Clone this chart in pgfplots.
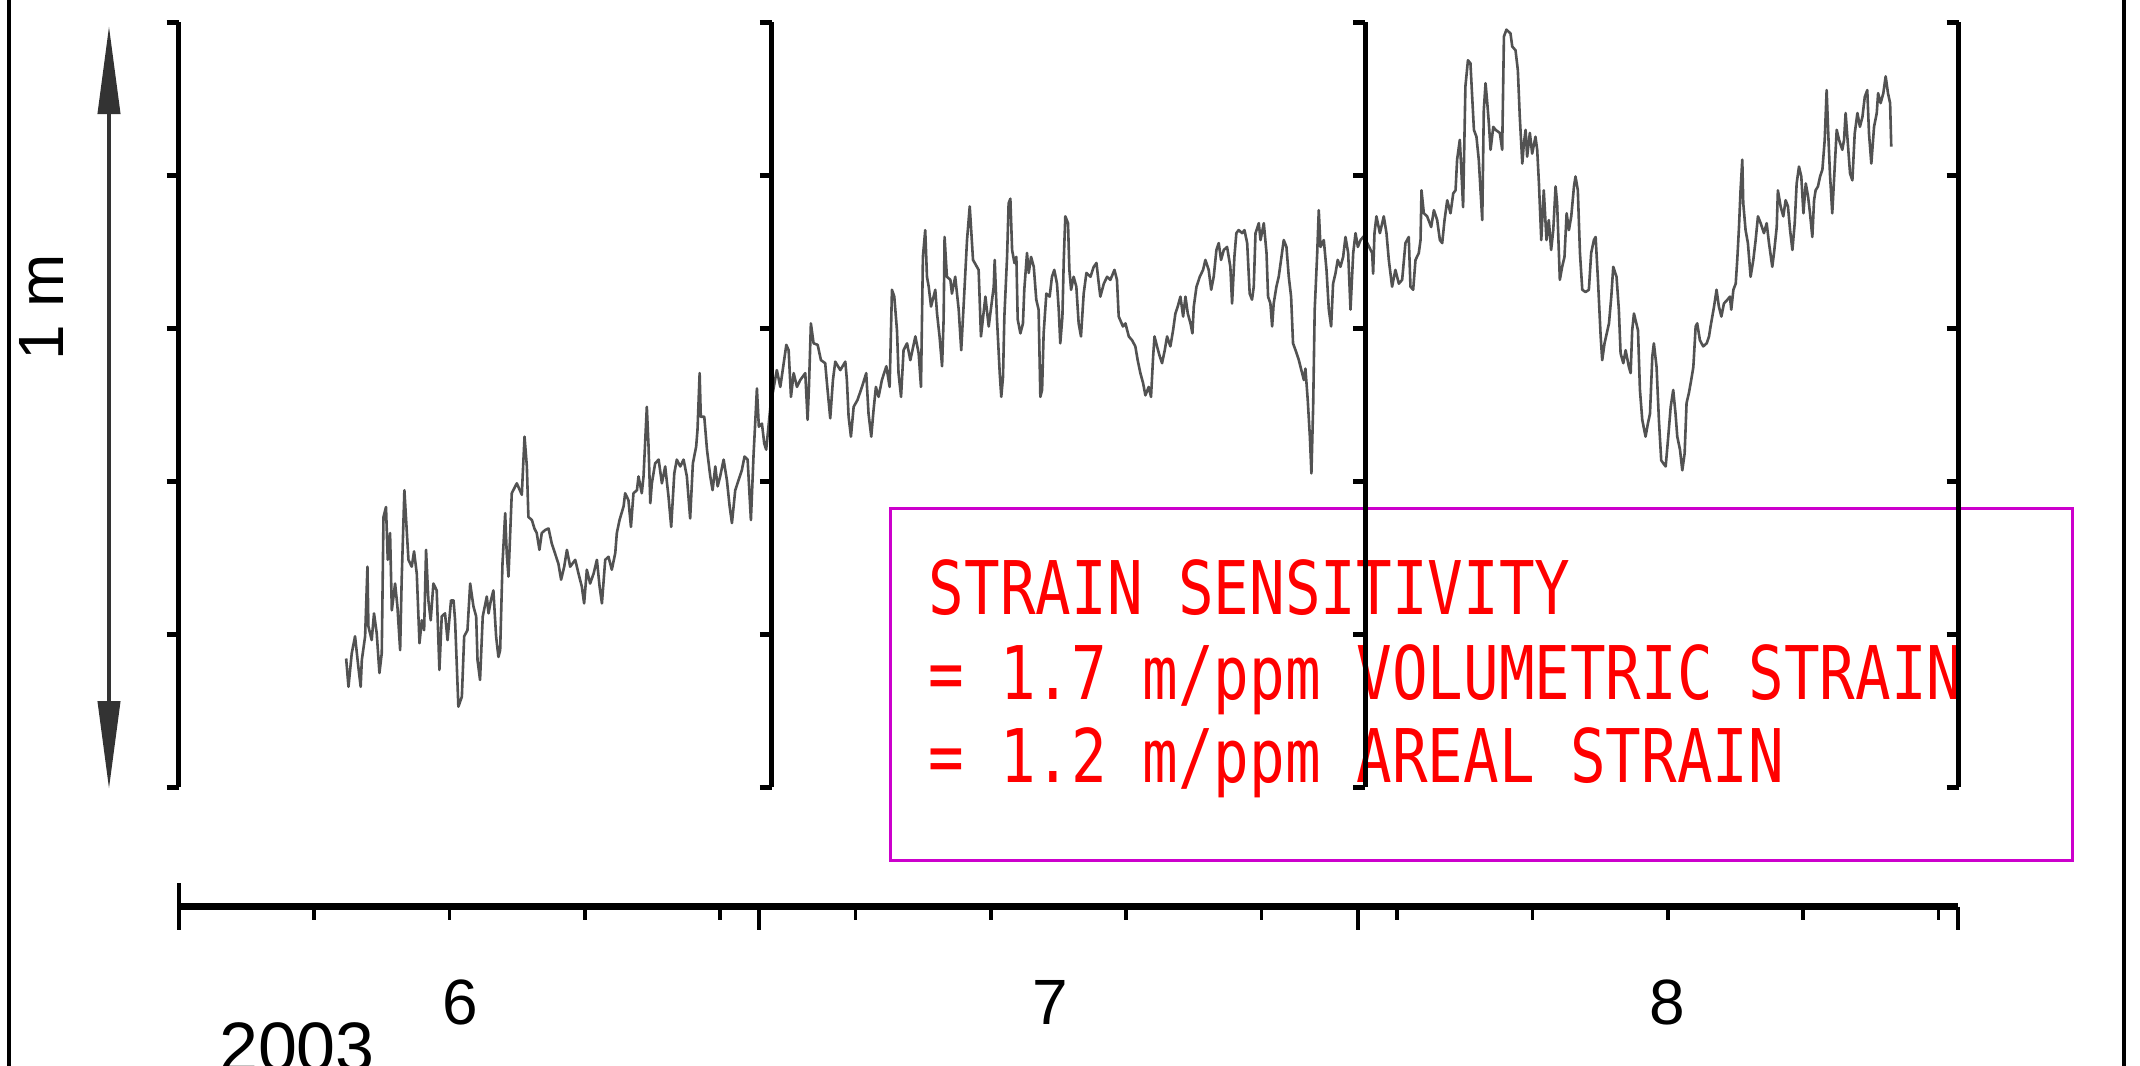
\documentclass[border=0pt]{standalone}
\usepackage{fontspec}
\usepackage{pgfplots}
\pgfplotsset{compat=1.18}
\usetikzlibrary{arrows.meta}
\setmainfont{Liberation Sans}
\newfontfamily\boxfont[FakeStretch=0.8]{DejaVu Sans Mono}
\definecolor{boxmag}{RGB}{204,0,204}
\definecolor{txtred}{RGB}{255,0,0}

\begin{document}
\begin{tikzpicture}
% scale: 1 px of the original = 0.25pt, panel area starts at (0,0)
\useasboundingbox (-44.65pt,-69.5pt) rectangle (490.35pt,196.75pt);
% outer frame, only left/right edges are visible
\draw[line width=0.8pt] (-42.4pt,-75pt) -- (-42.4pt,200pt);
\draw[line width=0.8pt] (486.35pt,-75pt) -- (486.35pt,200pt);

\begin{axis}[
    at={(0,0)}, anchor=south west,
    scale only axis, width=445pt, height=191.25pt,
    xmin=0, xmax=92, ymin=0, ymax=1,
    hide axis, clip=false,
  ]
  % water level (m) vs days since 1 June 2003
  \addplot[black!68, line width=0.65pt, line join=round] coordinates {
(8.66,0.168)(8.78,0.131)(8.95,0.175)(9.12,0.197)(9.29,0.157)(9.41,0.131)(9.47,0.166)(9.64,0.197)(9.76,0.288)(9.81,0.210)
(9.98,0.192)(10.10,0.227)(10.24,0.201)(10.38,0.149)(10.50,0.175)(10.59,0.353)(10.72,0.366)(10.81,0.297)(10.93,0.332)(11.02,0.231)
(11.19,0.266)(11.31,0.236)(11.45,0.179)(11.53,0.271)(11.67,0.388)(11.79,0.336)(11.88,0.297)(12.05,0.288)(12.17,0.308)(12.31,0.279)
(12.45,0.188)(12.57,0.218)(12.69,0.205)(12.79,0.310)(12.91,0.244)(13.03,0.218)(13.17,0.266)(13.34,0.257)(13.48,0.153)(13.60,0.223)
(13.77,0.227)(13.90,0.192)(14.08,0.244)(14.21,0.244)(14.29,0.218)(14.46,0.105)(14.64,0.118)(14.76,0.197)(14.93,0.205)(15.07,0.266)
(15.24,0.236)(15.38,0.223)(15.45,0.166)(15.58,0.140)(15.72,0.223)(15.93,0.249)(16.02,0.227)(16.14,0.244)(16.27,0.257)(16.41,0.197)
(16.53,0.170)(16.62,0.179)(16.74,0.292)(16.88,0.358)(16.96,0.305)(17.05,0.275)(17.22,0.384)(17.48,0.397)(17.74,0.382)(17.79,0.410)
(17.88,0.458)(18.00,0.419)(18.08,0.353)(18.26,0.349)(18.39,0.338)(18.51,0.332)(18.65,0.310)(18.77,0.332)(18.95,0.336)(19.12,0.338)
(19.29,0.318)(19.46,0.305)(19.63,0.292)(19.77,0.271)(19.93,0.288)
(20.07,0.310)(20.24,0.288)(20.50,0.297)(20.67,0.279)(20.84,0.262)(20.96,0.240)(21.10,0.284)(21.27,0.266)(21.45,0.279)(21.62,0.297)
(21.76,0.262)(21.88,0.240)(22.05,0.297)(22.22,0.301)(22.39,0.284)(22.57,0.306)(22.65,0.332)(22.79,0.349)(23.00,0.367)(23.08,0.384)
(23.25,0.375)(23.38,0.340)(23.51,0.384)(23.69,0.388)(23.77,0.406)(23.94,0.384)(24.03,0.406)(24.20,0.497)(24.29,0.445)(24.38,0.371)
(24.46,0.397)(24.63,0.423)(24.81,0.428)(24.98,0.397)(25.15,0.419)(25.32,0.380)(25.46,0.340)(25.62,0.410)(25.75,0.428)(25.93,0.419)
(26.10,0.428)(26.27,0.406)(26.44,0.351)(26.58,0.423)(26.75,0.445)(26.82,0.467)(26.93,0.541)(26.99,0.484)(27.17,0.484)(27.31,0.441)
(27.48,0.406)(27.60,0.388)(27.74,0.419)(27.86,0.393)(27.99,0.406)(28.17,0.428)(28.34,0.401)(28.48,0.367)(28.60,0.345)(28.77,0.388)
(28.94,0.401)(29.11,0.414)(29.25,0.432)(29.41,0.428)(29.58,0.349)(29.72,0.436)(29.80,0.475)(29.89,0.521)(29.99,0.471)(30.15,0.475)
(30.27,0.449)(30.37,0.441)(30.60,0.500)(30.92,0.545)
(31.10,0.523)(31.41,0.578)(31.53,0.571)(31.65,0.510)(31.79,0.541)(31.96,0.523)(32.13,0.532)(32.39,0.541)(32.51,0.480)(32.58,0.523)
(32.68,0.606)(32.82,0.580)(33.03,0.578)(33.20,0.558)(33.42,0.554)(33.51,0.528)(33.68,0.482)(33.82,0.532)(33.94,0.556)(34.20,0.545)
(34.46,0.556)(34.54,0.532)(34.63,0.484)(34.75,0.458)(34.89,0.497)(35.09,0.506)(35.32,0.523)(35.54,0.541)(35.66,0.488)(35.80,0.458)
(35.92,0.493)(36.04,0.523)(36.18,0.510)(36.35,0.532)(36.58,0.550)(36.75,0.523)(36.87,0.650)(36.99,0.641)(37.13,0.597)(37.21,0.541)
(37.34,0.510)(37.47,0.571)(37.65,0.580)(37.82,0.558)(38.08,0.589)(38.25,0.567)(38.37,0.523)(38.47,0.693)(38.59,0.728)(38.68,0.667)
(38.77,0.654)(38.89,0.628)(39.11,0.650)(39.20,0.619)(39.33,0.589)(39.46,0.550)(39.54,0.611)(39.59,0.719)(39.71,0.667)(39.89,0.663)
(39.97,0.645)(40.14,0.667)(40.32,0.624)(40.45,0.571)(40.58,0.632)(40.75,0.715)(40.89,0.759)(41.06,0.689)(41.35,0.676)(41.47,0.589)
(41.70,0.641)(41.87,0.602)(42.13,0.654)(42.18,0.689)(42.30,0.611)(42.44,0.541)(42.52,0.510)
(42.61,0.536)(42.68,0.615)(42.82,0.693)(42.90,0.763)(42.99,0.769)(43.08,0.702)(43.20,0.685)(43.30,0.693)(43.37,0.611)(43.51,0.593)
(43.64,0.606)(43.71,0.650)(43.85,0.698)(43.94,0.672)(44.06,0.693)(44.20,0.680)(44.33,0.637)(44.45,0.624)(44.54,0.510)(44.63,0.519)
(44.71,0.593)(44.85,0.645)(45.02,0.641)(45.14,0.667)(45.26,0.676)(45.40,0.658)(45.49,0.624)(45.57,0.580)(45.68,0.615)(45.75,0.689)
(45.83,0.746)(45.97,0.737)(46.04,0.676)(46.13,0.650)(46.26,0.667)(46.40,0.654)(46.52,0.606)(46.64,0.589)(46.78,0.645)(46.92,0.672)
(47.13,0.667)(47.30,0.680)(47.44,0.685)(47.56,0.658)(47.64,0.641)(47.82,0.658)(47.99,0.667)(48.16,0.663)(48.37,0.676)(48.50,0.663)
(48.59,0.615)(48.81,0.602)(48.94,0.606)(49.11,0.589)(49.28,0.584)(49.45,0.576)(49.57,0.558)(49.71,0.541)(49.85,0.528)(49.97,0.512)
(50.14,0.523)(50.26,0.510)(50.37,0.563)(50.44,0.589)(50.57,0.576)(50.71,0.563)(50.83,0.554)(50.97,0.571)(51.09,0.589)(51.26,0.576)
(51.40,0.597)(51.52,0.619)(51.64,0.628)(51.78,0.641)(51.92,0.615)(52.04,0.641)(52.16,0.619)(52.30,0.606)(52.40,0.593)(52.47,0.628)
(52.61,0.654)(52.78,0.667)(52.95,0.676)(53.07,0.689)(53.24,0.676)(53.37,0.650)(53.50,0.667)(53.64,0.702)(53.76,0.711)(53.88,0.689)
(54.02,0.702)(54.19,0.706)
(54.36,0.680)(54.45,0.632)(54.57,0.693)(54.67,0.724)(54.79,0.728)(54.97,0.724)(55.09,0.728)(55.23,0.711)(55.36,0.645)(55.48,0.637)
(55.57,0.654)(55.66,0.724)(55.83,0.737)(55.92,0.715)(56.09,0.737)(56.23,0.698)(56.31,0.641)(56.43,0.632)(56.52,0.602)(56.60,0.632)
(56.74,0.654)(56.86,0.667)(56.98,0.689)(57.12,0.715)(57.26,0.706)(57.38,0.667)(57.50,0.641)(57.60,0.580)(57.73,0.571)(57.90,0.558)
(58.07,0.541)(58.16,0.532)(58.24,0.547)(58.36,0.506)(58.47,0.458)(58.55,0.410)(58.64,0.497)(58.72,0.624)(58.85,0.698)(58.93,0.754)
(59.02,0.706)(59.19,0.715)(59.33,0.676)(59.45,0.624)(59.57,0.602)(59.67,0.658)(59.79,0.671)(59.91,0.689)(60.05,0.680)(60.19,0.693)
(60.31,0.719)(60.45,0.698)(60.57,0.624)(60.71,0.698)(60.83,0.724)(60.95,0.706)(61.09,0.715)(61.26,0.720)(61.69,0.698)(61.74,0.671)
(61.81,0.724)(61.91,0.746)(62.09,0.724)(62.29,0.746)(62.43,0.724)(62.55,0.689)(62.72,0.654)(62.89,0.676)(63.07,0.658)(63.24,0.663)
(63.41,0.711)(63.58,0.719)(63.67,0.654)(63.81,0.650)(63.93,0.689)(64.10,0.698)(64.19,0.715)(64.24,0.780)(64.36,0.750)(64.53,0.746)
(64.74,0.732)(64.88,0.754)(65.05,0.741)(65.19,0.715)(65.31,0.711)(65.43,0.741)(65.57,0.767)
(65.74,0.750)(65.88,0.776)(66.00,0.780)(66.08,0.820)(66.22,0.846)(66.29,0.811)(66.39,0.758)(66.51,0.916)(66.64,0.950)(66.77,0.946)
(66.86,0.902)(66.95,0.859)(67.08,0.850)(67.20,0.820)(67.29,0.780)(67.38,0.741)(67.46,0.885)(67.55,0.920)(67.64,0.894)(67.72,0.868)
(67.81,0.833)(67.95,0.863)(68.07,0.859)(68.29,0.855)(68.41,0.833)(68.50,0.981)(68.63,0.990)(68.84,0.985)(68.93,0.968)(69.10,0.963)
(69.22,0.937)(69.32,0.876)(69.45,0.815)(69.53,0.841)(69.62,0.859)(69.70,0.824)(69.84,0.855)(69.96,0.828)(70.13,0.850)(70.22,0.833)
(70.31,0.789)(70.43,0.715)(70.56,0.780)(70.70,0.715)(70.82,0.741)(70.94,0.702)(71.05,0.728)(71.17,0.785)(71.25,0.763)(71.39,0.663)
(71.51,0.680)(71.63,0.693)(71.74,0.750)(71.86,0.728)(71.98,0.746)(72.12,0.785)(72.20,0.798)(72.32,0.780)(72.43,0.698)(72.55,0.650)
(72.72,0.647)(72.89,0.650)(73.01,0.698)(73.15,0.715)(73.24,0.719)(73.36,0.663)(73.50,0.589)(73.58,0.558)(73.70,0.580)(73.93,0.606)
(74.05,0.641)(74.15,0.680)(74.32,0.667)(74.44,0.624)(74.53,0.567)(74.67,0.554)(74.79,0.571)(74.96,0.549)(75.05,0.541)(75.13,0.597)
(75.22,0.619)(75.43,0.597)(75.53,0.519)(75.65,0.480)(75.82,0.458)(75.94,0.475)(76.05,0.488)(76.17,0.563)(76.25,0.580)(76.39,0.549)
(76.51,0.480)(76.63,0.427)
(76.74,0.423)(76.86,0.419)(76.98,0.454)(77.12,0.497)(77.25,0.519)(77.37,0.488)(77.46,0.458)(77.60,0.441)(77.72,0.414)(77.84,0.436)
(77.94,0.502)(78.06,0.515)(78.18,0.532)(78.29,0.549)(78.41,0.602)(78.49,0.606)(78.63,0.584)(78.80,0.576)(78.98,0.580)(79.10,0.589)
(79.18,0.602)(79.36,0.628)(79.49,0.650)(79.61,0.628)(79.74,0.615)(79.87,0.632)(80.05,0.637)(80.18,0.641)(80.25,0.624)(80.36,0.650)
(80.48,0.658)(80.56,0.689)(80.65,0.732)(80.73,0.780)(80.82,0.820)(80.87,0.763)(80.99,0.728)(81.11,0.711)(81.25,0.667)(81.39,0.689)
(81.51,0.715)(81.63,0.746)(81.77,0.737)(81.94,0.724)(82.08,0.737)(82.20,0.711)(82.37,0.680)(82.46,0.698)(82.60,0.732)(82.66,0.780)
(82.80,0.759)(82.94,0.746)(83.06,0.767)(83.18,0.759)(83.29,0.728)(83.41,0.702)(83.53,0.737)(83.63,0.789)(83.75,0.811)(83.87,0.798)
(83.98,0.750)(84.10,0.789)(84.22,0.772)(84.32,0.750)(84.44,0.719)(84.53,0.767)(84.61,0.780)(84.73,0.785)(84.84,0.798)(84.96,0.807)
(85.08,0.846)(85.18,0.911)(85.27,0.850)(85.35,0.802)(85.47,0.750)(85.59,0.807)(85.70,0.859)(85.82,0.846)(85.99,0.833)(86.08,0.846)
(86.16,0.881)(86.25,0.850)(86.39,0.802)(86.51,0.793)(86.63,0.854)(86.77,0.881)(86.90,0.863)(87.03,0.876)(87.15,0.902)(87.28,0.911)
(87.37,0.854)(87.49,0.815)(87.63,0.863)(87.77,0.881)(87.84,0.907)(87.97,0.894)(88.11,0.907)(88.23,0.929)(88.35,0.907)(88.46,0.894)
(88.52,0.837)
  };
\end{axis}

% annotation box
\draw[boxmag, line width=0.75pt] (177.85pt,-18.25pt) rectangle (473.35pt,69.75pt);
\begin{scope}[every node/.style={anchor=base west, inner sep=0pt, text=txtred,
    font=\boxfont\fontsize{18.5pt}{21pt}\selectfont}]
  \node at (187.35pt,43.25pt) {STRAIN SENSITIVITY};
  \node at (187.35pt,22pt) {= 1.7 m/ppm VOLUMETRIC STRAIN};
  \node at (187.35pt,1.25pt) {= 1.2 m/ppm AREAL STRAIN};
\end{scope}

% panel bars with left ticks
\foreach \px in {0,148.333,296.667,445} {
  \draw[line width=1.25pt] ({\px*1pt},0pt) -- ({\px*1pt},191.25pt);
  \foreach \ty in {0,38.25,76.5,114.75,153,191.25}
    \draw[line width=1.25pt] ({\px*1pt-3pt},{\ty*1pt}) -- ({\px*1pt},{\ty*1pt});
}

% 1 m scale arrow
\draw[black!80, line width=1pt, {Triangle[length=22pt,width=5.5pt]}-{Triangle[length=22pt,width=5.5pt]}]
  (-17.4pt,-0.5pt) -- (-17.4pt,190.25pt);
\node[rotate=90, inner sep=0pt, font=\fontsize{16pt}{16pt}\selectfont] at (-34.4pt,120pt) {1 m};

% time axis: months and weekly ticks
\draw[line width=1.6pt] (0pt,-29.9pt) -- (444.85pt,-29.9pt);
\draw[line width=1pt] (0pt,-24pt) -- (0pt,-35.75pt);
\foreach \d in {30,61,92}
  \draw[line width=1pt] ({\d*4.835pt},-29.9pt) -- ({\d*4.835pt},-35.75pt);
\foreach \d in {7,14,...,91}
  \draw[line width=0.9pt] ({\d*4.835pt},-29.9pt) -- ({\d*4.835pt},-33.25pt);
\begin{scope}[every node/.style={anchor=base, inner sep=0pt, font=\fontsize{16pt}{16pt}\selectfont}]
  \node at (70.35pt,-59.25pt) {6};
  \node at (217.85pt,-59.25pt) {7};
  \node at (372.1pt,-59.25pt) {8};
\end{scope}
% the year sits at the lower edge and is partly cut off, as in the original
\node[anchor=base, inner sep=0pt, font=\fontsize{17.5pt}{17.5pt}\selectfont] at (29.6pt,-71pt) {2003};
\end{tikzpicture}
\end{document}
